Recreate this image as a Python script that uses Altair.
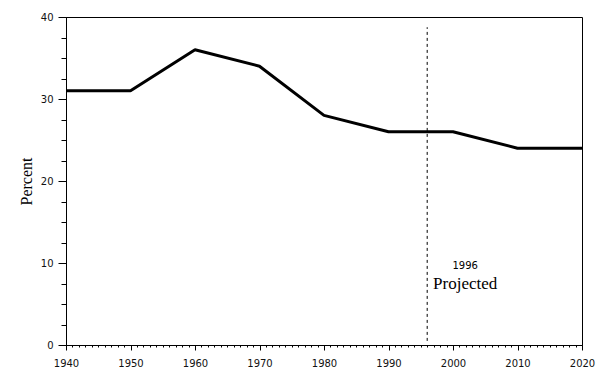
import altair as alt
import pandas as pd

years = [1940, 1950, 1960, 1970, 1980, 1990, 2000, 2010, 2020]
percent = [31, 31, 36, 34, 28, 26, 26, 24, 24]

major_x = list(range(1940, 2021, 10))
minor_x = list(range(1940, 2021, 1))
major_y = [0, 10, 20, 30, 40]
minor_y = [v * 2.5 for v in range(0, 17)]

proj_year = [1996]
proj_y0 = [0.5]
proj_y1 = [38.75]

label_small = ["1996"]
label_big = ["Projected"]
label_small_y = [9.6]
label_big_y = [7.5]

df = pd.DataFrame({"year": years, "percent": percent})
proj = pd.DataFrame({"year": proj_year, "y0": proj_y0, "y1": proj_y1})
lab1 = pd.DataFrame({"year": proj_year, "y": label_small_y, "t": label_small})
lab2 = pd.DataFrame({"year": proj_year, "y": label_big_y, "t": label_big})

xscale = alt.Scale(domain=[1940, 2020], nice=False, zero=False)
yscale = alt.Scale(domain=[0, 40], nice=False)

line = alt.Chart(df).mark_line(color="black", strokeWidth=3, strokeJoin="bevel").encode(
    x=alt.X("year:Q", scale=xscale,
            axis=alt.Axis(values=major_x, tickSize=5, labelPadding=8, format="d",
                          title=None, orient="bottom", grid=False,
                          labelFont="DejaVu Sans", labelFontSize=10, labelColor="#111",
                          labelFlush=False,
                          domainColor="black", tickColor="black")),
    y=alt.Y("percent:Q", scale=yscale,
            axis=alt.Axis(values=major_y, tickSize=8, labelPadding=5, title="Percent",
                          orient="left", grid=False,
                          labelFont="DejaVu Sans", labelFontSize=10, labelColor="#111",
                          titleFont="Liberation Serif", titleFontSize=16,
                          titleFontWeight="normal", titleColor="black", titlePadding=6,
                          domainColor="black", tickColor="black")),
)

minor = alt.Chart(df).mark_line(opacity=0).encode(
    x=alt.X("year:Q", scale=xscale,
            axis=alt.Axis(values=minor_x, tickSize=2, labels=False, domain=False,
                          title=None, orient="bottom", grid=False, tickColor="black")),
    y=alt.Y("percent:Q", scale=yscale,
            axis=alt.Axis(values=minor_y, tickSize=5, labels=False, domain=False,
                          title=None, orient="left", grid=False, tickColor="black")),
)

dash = alt.Chart(proj).mark_rule(color="black", strokeWidth=1, strokeDash=[3, 3]).encode(
    x=alt.X("year:Q", scale=xscale, axis=None),
    y=alt.Y("y0:Q", scale=yscale, axis=None),
    y2="y1:Q",
)

t1 = alt.Chart(lab1).mark_text(font="DejaVu Sans", fontSize=10, color="black",
                               dx=38, align="center", baseline="middle").encode(
    x=alt.X("year:Q", scale=xscale, axis=None),
    y=alt.Y("y:Q", scale=yscale, axis=None), text="t:N")

t2 = alt.Chart(lab2).mark_text(font="Liberation Serif", fontSize=17, color="black",
                               dx=38, align="center", baseline="middle").encode(
    x=alt.X("year:Q", scale=xscale, axis=None),
    y=alt.Y("y:Q", scale=yscale, axis=None), text="t:N")

chart = alt.layer(minor, line, dash, t1, t2).resolve_axis(
    x="independent", y="independent"
).properties(
    width=516, height=328,
    autosize=alt.AutoSizeParams(type="none"),
    padding={"left": 58, "top": 9, "right": 22, "bottom": 30},
    background="white",
).configure_view(stroke="black", strokeWidth=1)

chart.save("out.html", embed_options={"renderer": "svg", "actions": False})
